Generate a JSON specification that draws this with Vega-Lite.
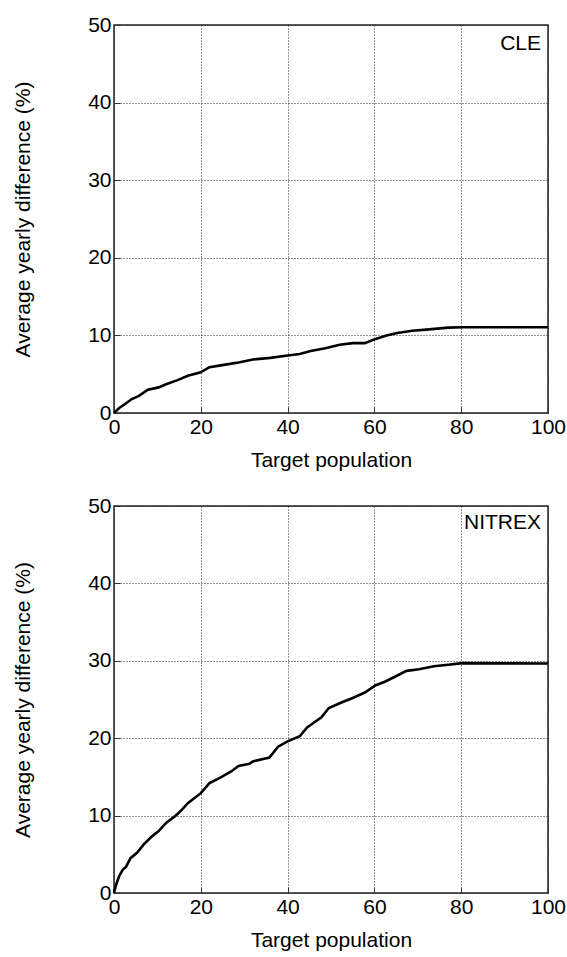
{
  "$schema": "https://vega.github.io/schema/vega-lite/v6.json",
  "padding": {"left": 11, "top": 13, "right": 2, "bottom": 2},
  "background": "white",
  "spacing": 23,
  "config": {
    "font": "Liberation Sans",
    "view": {"stroke": "#222", "strokeWidth": 1.5},
    "axis": {
      "labelFont": "Liberation Sans",
      "titleFont": "Liberation Sans",
      "labelFontSize": 21,
      "titleFontSize": 21,
      "labelColor": "#000",
      "titleColor": "#000",
      "titleFontWeight": "normal",
      "labelFontWeight": "normal",
      "gridColor": "#222",
      "gridDash": [1, 2],
      "gridWidth": 1,
      "domain": false,
      "tickColor": "#333",
      "tickSize": -6,
      "labelPadding": 9,
      "labelFlush": false,
      "labelOverlap": false
    }
  },
  "datasets": {
    "cle": [
      {"x": 0, "y": 0}, {"x": 1.2, "y": 0.65}, {"x": 2.4, "y": 1.1}, {"x": 4.1, "y": 1.8},
      {"x": 5.75, "y": 2.2}, {"x": 7.8, "y": 3.0}, {"x": 10.3, "y": 3.3}, {"x": 12, "y": 3.7},
      {"x": 14.5, "y": 4.2}, {"x": 17, "y": 4.8}, {"x": 20, "y": 5.25}, {"x": 22, "y": 5.9},
      {"x": 25.3, "y": 6.2}, {"x": 28.7, "y": 6.5}, {"x": 32, "y": 6.9}, {"x": 36, "y": 7.1},
      {"x": 40, "y": 7.4}, {"x": 42.8, "y": 7.6}, {"x": 45.3, "y": 8.0}, {"x": 48.7, "y": 8.35},
      {"x": 52, "y": 8.8}, {"x": 55, "y": 9.0}, {"x": 57.8, "y": 9.0}, {"x": 60.3, "y": 9.55},
      {"x": 62.8, "y": 10.0}, {"x": 65.3, "y": 10.3}, {"x": 68.7, "y": 10.6}, {"x": 72, "y": 10.75},
      {"x": 77, "y": 11.0}, {"x": 80.3, "y": 11.05}, {"x": 100, "y": 11.05}
    ],
    "nitrex": [
      {"x": 0, "y": 0}, {"x": 0.5, "y": 1.1}, {"x": 1.2, "y": 2.2}, {"x": 2, "y": 3.0},
      {"x": 2.8, "y": 3.4}, {"x": 3.8, "y": 4.5}, {"x": 5.3, "y": 5.2}, {"x": 6.8, "y": 6.25},
      {"x": 8.7, "y": 7.3}, {"x": 10.3, "y": 8.0}, {"x": 12, "y": 9.05}, {"x": 14, "y": 9.9},
      {"x": 15.3, "y": 10.55}, {"x": 17, "y": 11.6}, {"x": 20, "y": 12.9}, {"x": 22, "y": 14.2},
      {"x": 24.5, "y": 14.9}, {"x": 27, "y": 15.7}, {"x": 28.7, "y": 16.4}, {"x": 31.2, "y": 16.7},
      {"x": 32, "y": 17.0}, {"x": 35.8, "y": 17.5}, {"x": 37.8, "y": 18.9}, {"x": 40, "y": 19.6},
      {"x": 42.8, "y": 20.25}, {"x": 44.5, "y": 21.4}, {"x": 47.8, "y": 22.7}, {"x": 49.5, "y": 23.9},
      {"x": 52.8, "y": 24.7}, {"x": 55, "y": 25.2}, {"x": 57.8, "y": 25.9}, {"x": 60.3, "y": 26.85},
      {"x": 62.4, "y": 27.3}, {"x": 65.3, "y": 28.1}, {"x": 67.4, "y": 28.7}, {"x": 70.3, "y": 28.9},
      {"x": 73.7, "y": 29.3}, {"x": 77, "y": 29.5}, {"x": 80.3, "y": 29.7}, {"x": 100, "y": 29.65}
    ]
  },
  "vconcat": [
    {
      "width": 434,
      "height": 388,
      "layer": [
        {
          "data": {"name": "cle"},
          "mark": {"type": "line", "color": "#000", "strokeWidth": 2.6, "interpolate": "linear"},
          "encoding": {
            "x": {"field": "x", "type": "quantitative", "scale": {"domain": [0, 100], "nice": false}, "axis": {"values": [0, 20, 40, 60, 80, 100], "title": "Target population", "titlePadding": 12}},
            "y": {"field": "y", "type": "quantitative", "scale": {"domain": [0, 50], "nice": false}, "axis": {"values": [0, 10, 20, 30, 40, 50], "title": "Average yearly difference (%)", "titlePadding": 54}}
          }
        },
        {
          "data": {"values": [{"label": "CLE"}]},
          "mark": {"type": "text", "align": "right", "baseline": "middle", "fontSize": 21, "font": "Liberation Sans", "color": "#000"},
          "encoding": {
            "x": {"datum": 98.4, "type": "quantitative"},
            "y": {"datum": 47.6, "type": "quantitative"},
            "text": {"field": "label"}
          }
        }
      ]
    },
    {
      "width": 434,
      "height": 387,
      "layer": [
        {
          "data": {"name": "nitrex"},
          "mark": {"type": "line", "color": "#000", "strokeWidth": 2.6, "interpolate": "linear"},
          "encoding": {
            "x": {"field": "x", "type": "quantitative", "scale": {"domain": [0, 100], "nice": false}, "axis": {"values": [0, 20, 40, 60, 80, 100], "title": "Target population", "titlePadding": 12}},
            "y": {"field": "y", "type": "quantitative", "scale": {"domain": [0, 50], "nice": false}, "axis": {"values": [0, 10, 20, 30, 40, 50], "title": "Average yearly difference (%)", "titlePadding": 54}}
          }
        },
        {
          "data": {"values": [{"label": "NITREX"}]},
          "mark": {"type": "text", "align": "right", "baseline": "middle", "fontSize": 21, "font": "Liberation Sans", "color": "#000"},
          "encoding": {
            "x": {"datum": 98.4, "type": "quantitative"},
            "y": {"datum": 47.8, "type": "quantitative"},
            "text": {"field": "label"}
          }
        }
      ]
    }
  ]
}
